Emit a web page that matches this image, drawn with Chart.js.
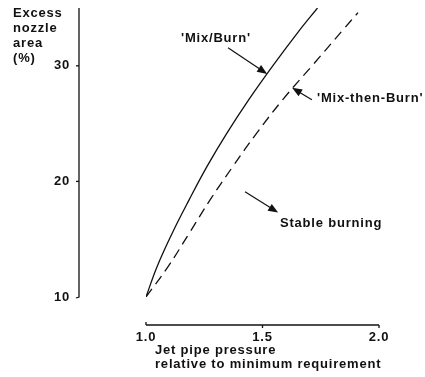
<!DOCTYPE html>
<html>
<head>
<meta charset="utf-8">
<script src="https://cdn.jsdelivr.net/npm/chart.js@4"></script>
<style>
  html, body { margin: 0; padding: 0; background: #fff; }
  #wrap { width: 425px; height: 377px; }
</style>
</head>
<body>
<div id="wrap"><canvas id="chart" width="425" height="377"></canvas></div>
<script>
// jet pipe pressure (x) vs excess nozzle area (y)
const mixBurnX = [1.0, 1.047, 1.112, 1.185, 1.262, 1.348, 1.442, 1.544, 1.652, 1.736];
const mixBurnY = [10, 12.6, 15.5, 18.4, 21.3, 24.2, 27.1, 30.0, 32.9, 35.0];
const mixThenBurnX = [1.0, 1.094, 1.185, 1.275, 1.373, 1.476, 1.588, 1.717, 1.845, 1.91];
const mixThenBurnY = [10, 12.6, 15.5, 18.4, 21.3, 24.2, 27.1, 30.1, 33.1, 34.6];
const xTicks = [1.0, 1.5, 2.0];
const yTicks = [10, 20, 30];

const ink = '#111';
const family = '"Liberation Sans", Arial, sans-serif';
const font = 'bold 13px ' + family;

const toPoints = (xs, ys) => xs.map((x, i) => ({ x: x, y: ys[i] }));

// labels with arrows, in data units
const notes = [
    { text: "'Mix/Burn'", at: [1.30, 32.4], align: 'center', from: [1.352, 31.56], to: [1.52, 29.3] },
    { text: "'Mix-then-Burn'", at: [1.734, 27.2], align: 'left', from: [1.712, 27.06], to: [1.627, 28.1] },
    { text: 'Stable burning', at: [1.575, 16.4], align: 'left', from: [1.425, 19.1], to: [1.567, 17.3] }
];

function arrow(ctx, x1, y1, x2, y2) {
    const a = Math.atan2(y2 - y1, x2 - x1);
    const len = 10, w = 4;
    ctx.beginPath();
    ctx.moveTo(x1, y1);
    ctx.lineTo(x2 - Math.cos(a) * len * 0.8, y2 - Math.sin(a) * len * 0.8);
    ctx.stroke();
    ctx.beginPath();
    ctx.moveTo(x2, y2);
    ctx.lineTo(x2 - Math.cos(a) * len + Math.sin(a) * w, y2 - Math.sin(a) * len - Math.cos(a) * w);
    ctx.lineTo(x2 - Math.cos(a) * len - Math.sin(a) * w, y2 - Math.sin(a) * len + Math.cos(a) * w);
    ctx.closePath();
    ctx.fill();
}

const decor = {
    id: 'decor',
    beforeDraw(chart) {
        chart.ctx.letterSpacing = '0.8px';
    },
    afterDraw(chart) {
        const ctx = chart.ctx;
        const xs = chart.scales.x, ys = chart.scales.y;
        const area = chart.chartArea;
        ctx.save();
        ctx.strokeStyle = ink;
        ctx.fillStyle = ink;
        ctx.lineWidth = 1.3;

        // detached y axis
        const ax = 79;
        ctx.beginPath();
        ctx.moveTo(ax, area.top);
        ctx.lineTo(ax, ys.getPixelForValue(10));
        ctx.lineTo(ax - 3, ys.getPixelForValue(10) + 1);
        ctx.stroke();
        yTicks.slice(1).forEach(v => {
            const py = ys.getPixelForValue(v);
            ctx.beginPath();
            ctx.moveTo(ax - 3, py);
            ctx.lineTo(ax, py);
            ctx.stroke();
        });

        // detached x axis
        const ay = 325;
        ctx.beginPath();
        ctx.moveTo(xs.getPixelForValue(1.0), ay);
        ctx.lineTo(xs.getPixelForValue(2.0), ay);
        ctx.stroke();
        xTicks.forEach((v, i) => {
            const px = xs.getPixelForValue(v);
            ctx.beginPath();
            if (i === 0) { ctx.moveTo(px, ay); ctx.lineTo(px, ay - 3); }
            else { ctx.moveTo(px, ay); ctx.lineTo(px, ay + 3); }
            ctx.stroke();
        });

        // axis titles
        ctx.letterSpacing = '0.8px';
        ctx.font = font;
        ctx.textBaseline = 'middle';
        ctx.textAlign = 'left';
        ['Excess', 'nozzle', 'area', '(%)'].forEach((s, i) => ctx.fillText(s, 13, 13 + i * 15));
        ctx.fillText('Jet pipe pressure', 155, 350);
        ctx.fillText('relative to minimum requirement', 155, 364);

        // annotations
        ctx.lineWidth = 1.2;
        notes.forEach(n => {
            ctx.textAlign = n.align;
            ctx.fillText(n.text, xs.getPixelForValue(n.at[0]), ys.getPixelForValue(n.at[1]));
            arrow(ctx,
                xs.getPixelForValue(n.from[0]), ys.getPixelForValue(n.from[1]),
                xs.getPixelForValue(n.to[0]), ys.getPixelForValue(n.to[1]));
        });
        ctx.restore();
    }
};

new Chart(document.getElementById('chart').getContext('2d'), {
    type: 'scatter',
    data: {
        datasets: [
            {
                label: "'Mix/Burn'",
                data: toPoints(mixBurnX, mixBurnY),
                showLine: true,
                borderColor: ink,
                borderWidth: 1.3,
                pointRadius: 0,
                tension: 0.4
            },
            {
                label: "'Mix-then-Burn'",
                data: toPoints(mixThenBurnX, mixThenBurnY),
                showLine: true,
                borderColor: ink,
                borderWidth: 1.3,
                borderDash: [10, 6],
                pointRadius: 0,
                tension: 0.4
            }
        ]
    },
    options: {
        responsive: false,
        animation: false,
        layout: { padding: { left: 0, top: 8, right: 46, bottom: 0 } },
        plugins: { legend: { display: false }, tooltip: { enabled: false } },
        scales: {
            x: {
                type: 'linear',
                min: 1.0,
                max: 2.0,
                border: { display: false },
                grid: { display: false, drawTicks: false },
                afterBuildTicks: s => { s.ticks = xTicks.map(v => ({ value: v })); },
                afterFit: s => { s.height = 80; s.paddingLeft = 0; s.paddingRight = 0; },
                ticks: {
                    padding: 33,
                    color: ink,
                    font: { family: family, size: 13, weight: 'bold' },
                    callback: v => v.toFixed(1)
                }
            },
            y: {
                min: 10,
                max: 35,
                border: { display: false },
                grid: { display: false, drawTicks: false },
                afterBuildTicks: s => { s.ticks = yTicks.map(v => ({ value: v })); },
                afterFit: s => { s.width = 146; s.paddingTop = 0; s.paddingBottom = 0; },
                ticks: {
                    padding: 76,
                    color: ink,
                    font: { family: family, size: 13, weight: 'bold' }
                }
            }
        }
    },
    plugins: [decor]
});
</script>
</body>
</html>
